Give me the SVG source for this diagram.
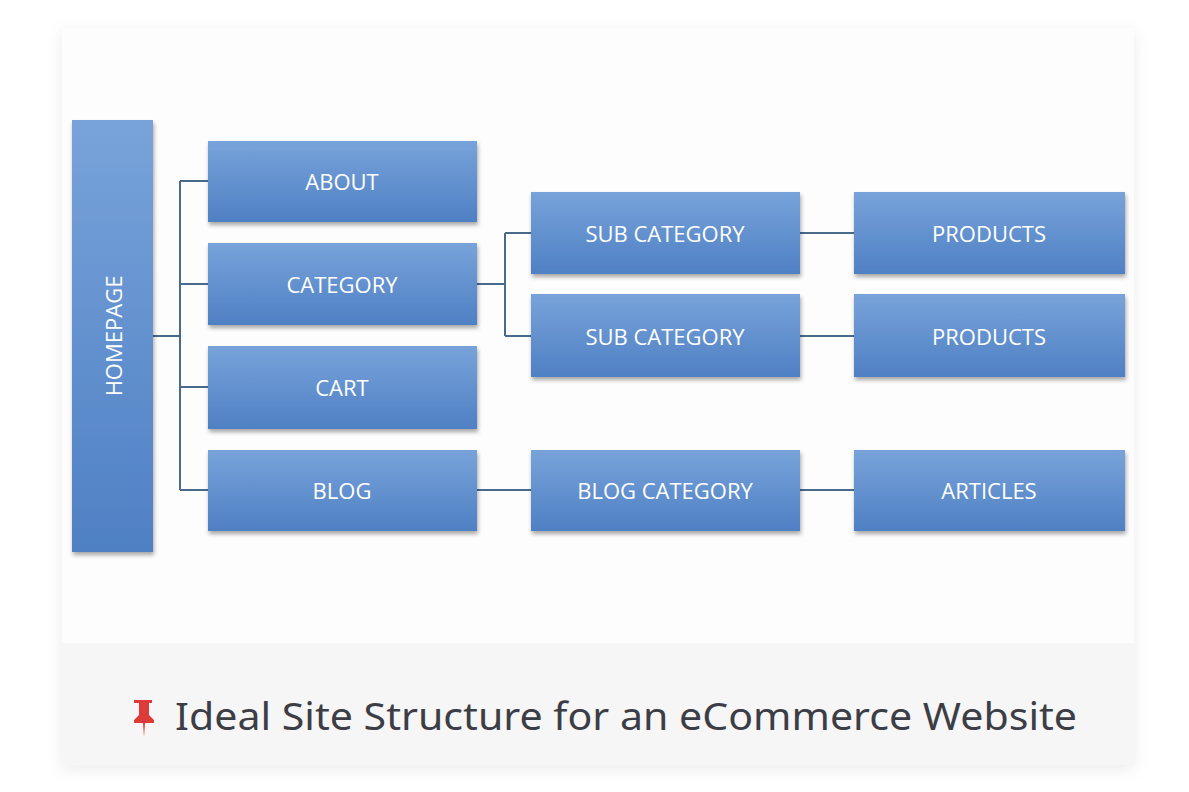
<svg xmlns="http://www.w3.org/2000/svg" width="1189" height="792" viewBox="0 0 1189 792">
<defs>
<linearGradient id="g" x1="0" y1="0" x2="0" y2="1"><stop offset="0" stop-color="#78a3da"/><stop offset="1" stop-color="#4f80c4"/></linearGradient>
<filter id="sh" x="-10%" y="-10%" width="120%" height="130%"><feDropShadow dx="1" dy="3" stdDeviation="2" flood-color="#000" flood-opacity="0.35"/></filter>
<filter id="cs" x="-5%" y="-5%" width="110%" height="110%"><feDropShadow dx="0" dy="4" stdDeviation="8" flood-color="#000" flood-opacity="0.08"/></filter>
</defs>
<style>
.b{fill:url(#g);filter:url(#sh)}
.t{font-family:"Open Sans",sans-serif;font-size:22px;fill:#fff;text-anchor:middle;dominant-baseline:central}
.c{stroke:#4a6a8c;stroke-width:2;fill:none}
</style>
<rect width="1189" height="792" fill="#fff"/>
<g id="card">
<rect x="62" y="28" width="1072" height="737" fill="#fdfdfd" filter="url(#cs)"/>
<rect x="62" y="643" width="1072" height="122" fill="#f6f6f7"/>
</g>
<g id="connectors">
<path class="c" d="M153 336H180M180 181V490M180 181H208M180 284H208M180 387H208M180 490H208"/>
<path class="c" d="M477 284H505M505 233V336M505 233H531M505 336H531"/>
<path class="c" d="M800 233H854M800 336H854M477 490H531M800 490H854"/>
</g>
<g id="homepage"><rect class="b" x="72" y="120" width="81" height="432"/><text class="t" transform="translate(113 336) rotate(-90)">HOMEPAGE</text></g>
<g id="about"><rect class="b" x="208" y="141" width="269" height="81"/><text class="t" x="342" y="181">ABOUT</text></g>
<g id="category"><rect class="b" x="208" y="243" width="269" height="82"/><text class="t" x="342" y="284">CATEGORY</text></g>
<g id="cart"><rect class="b" x="208" y="346" width="269" height="83"/><text class="t" x="342" y="387">CART</text></g>
<g id="blog"><rect class="b" x="208" y="450" width="269" height="81"/><text class="t" x="342" y="490">BLOG</text></g>
<g id="sub1"><rect class="b" x="531" y="192" width="269" height="82"/><text class="t" x="665" y="233">SUB CATEGORY</text></g>
<g id="sub2"><rect class="b" x="531" y="294" width="269" height="83"/><text class="t" x="665" y="336">SUB CATEGORY</text></g>
<g id="blogcat"><rect class="b" x="531" y="450" width="269" height="81"/><text class="t" x="665" y="490">BLOG CATEGORY</text></g>
<g id="prod1"><rect class="b" x="854" y="192" width="271" height="82"/><text class="t" x="989" y="233">PRODUCTS</text></g>
<g id="prod2"><rect class="b" x="854" y="294" width="271" height="83"/><text class="t" x="989" y="336">PRODUCTS</text></g>
<g id="articles"><rect class="b" x="854" y="450" width="271" height="81"/><text class="t" x="989" y="490">ARTICLES</text></g>
<g id="caption">
<path d="M134 700h18v3h-3v12l5 5v3h-9l-1 14l-1-14h-9v-3l5-5v-12h-5z" fill="#dd3a3a"/>
<text x="175" y="730" font-family="Noto Sans,sans-serif" font-size="38" fill="#3c3d45" textLength="902" lengthAdjust="spacingAndGlyphs">Ideal Site Structure for an eCommerce Website</text>
</g>
</svg>
